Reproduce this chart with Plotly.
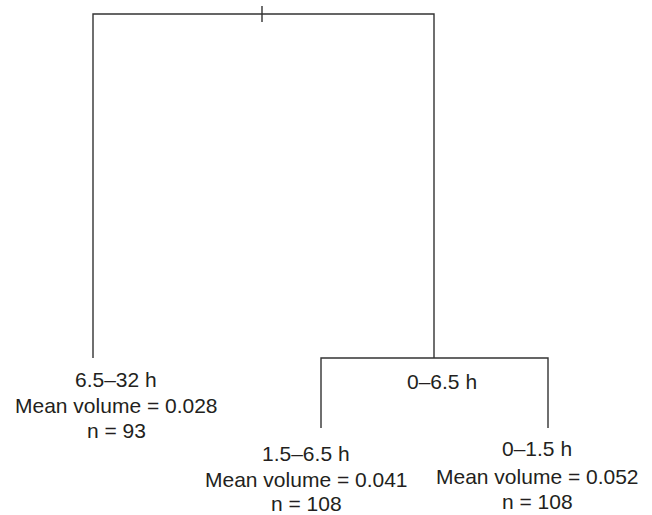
import plotly.graph_objects as go

# ---- data: regression tree leaves ----
leaf_ranges = ["6.5–32 h", "1.5–6.5 h", "0–1.5 h"]
leaf_means = [0.028, 0.041, 0.052]
leaf_counts = [93, 108, 108]
inner_split_label = "0–6.5 h"

# ---- layout (pixel coordinates of the drawing) ----
W, H = 652, 515
root_x, root_top, root_y = 262, 6, 14
left_x, right_x = 93, 434
split2_y = 358
ll_x, lr_x = 321, 548
leaf_bottom = 428

line_col = "#333333"
txt_col = "#231f20"
fs = 21
font_family = "Liberation Sans, Arial, Helvetica"

segments = [
    ([root_x, root_x], [root_top, 22]),
    ([left_x, left_x, right_x, right_x], [split2_y, root_y, root_y, split2_y]),
    ([ll_x, ll_x, lr_x, lr_x], [leaf_bottom, split2_y, split2_y, leaf_bottom]),
]

fig = go.Figure()
for xs, ys in segments:
    fig.add_trace(go.Scatter(x=xs, y=ys, mode="lines",
                             line=dict(color=line_col, width=1.4),
                             hoverinfo="skip", showlegend=False))

# (center x, y of first line, y of second, y of third)
leaf_pos = [
    (116, 379, 405, 430),
    (306, 453, 479, 503),
    (537, 448, 476, 501),
]
for (xc, y1, y2, y3), rng, m, n in zip(leaf_pos, leaf_ranges, leaf_means, leaf_counts):
    for y, t in [(y1, rng), (y2, f"Mean volume = {m:.3f}"), (y3, f"n = {n}")]:
        fig.add_annotation(x=xc, y=y, text=t, showarrow=False,
                           xanchor="center", yanchor="middle",
                           font=dict(family=font_family, size=fs, color=txt_col))

fig.add_annotation(x=442, y=381, text=inner_split_label, showarrow=False,
                   xanchor="center", yanchor="middle",
                   font=dict(family=font_family, size=fs, color=txt_col))

fig.update_xaxes(range=[0, W], visible=False, fixedrange=True)
fig.update_yaxes(range=[H, 0], visible=False, fixedrange=True)
fig.update_layout(width=W, height=H, margin=dict(l=0, r=0, t=0, b=0),
                  paper_bgcolor="white", plot_bgcolor="white")

fig.write_html("out.html", config={"displayModeBar": False},
               post_script="document.body.style.margin='0px';document.body.style.overflow='hidden';")
